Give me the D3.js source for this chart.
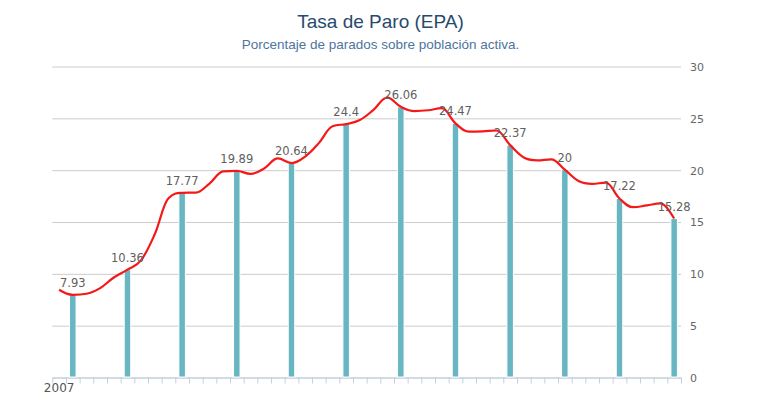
<html>
  <head>
    <meta charset="utf-8" />
    <script src="https://d3js.org/d3.v7.min.js"></script>
    <style>
      body {
        margin: 0;
        background: #fff;
      }
      .tick text {
        font-family: "DejaVu Sans", sans-serif;
      }
    </style>
  </head>

  <body>
    <svg id="chart" width="761" height="398"></svg>
    <script>
      // datos trimestrales EPA (2007T1 - 2018T2)
      var years = [2007, 2008, 2009, 2010, 2011, 2012, 2013, 2014, 2015, 2016, 2017, 2018];
      var quarterValues = [
        8.42, 7.93, 8.03, 8.57,
        9.6, 10.36, 11.28, 13.79,
        17.24, 17.77, 17.79, 18.66,
        19.84, 19.89, 19.59, 20.11,
        21.08, 20.64, 21.26, 22.56,
        24.19, 24.4, 24.79, 25.77,
        26.94, 26.06, 25.65, 25.73,
        25.93, 24.47, 23.67, 23.7,
        23.78, 22.37, 21.18, 20.9,
        21.0, 20.0, 18.91, 18.63,
        18.75, 17.22, 16.38, 16.55,
        16.74, 15.28
      ];
      // columnas: segundo trimestre de cada año
      var barQuarters = ["2007T2", "2008T2", "2009T2", "2010T2", "2011T2", "2012T2",
        "2013T2", "2014T2", "2015T2", "2016T2", "2017T2", "2018T2"];
      var barValues = [7.93, 10.36, 17.77, 19.89, 20.64, 24.4, 26.06, 24.47, 22.37, 20, 17.22, 15.28];
      var yTicks = [0, 5, 10, 15, 20, 25, 30];
      var xLabels = { "2007T1": "2007" };

      var quarters = [];
      years.forEach(function (yr) {
        ["T1", "T2", "T3", "T4"].forEach(function (q) {
          quarters.push(yr + q);
        });
      });
      quarters = quarters.slice(0, quarterValues.length);

      var svg = d3.select("#chart"),
        margin = { top: 66, bottom: 21, left: 52.3, right: 80 },
        width = +svg.attr("width"),
        height = +svg.attr("height");

      var plotL = margin.left,
        plotR = width - margin.right,
        plotT = margin.top,
        plotB = height - margin.bottom;

      var x = d3.scaleBand().domain(quarters).range([plotL, plotR]).padding(0);
      var xTicks = d3.scaleLinear().domain([0, quarters.length]).range([plotL, plotR]);
      var y = d3.scaleLinear().domain([0, 30]).range([plotB, plotT]);

      // titulos
      svg.append("text")
        .attr("x", 380.5)
        .attr("y", 28)
        .attr("text-anchor", "middle")
        .style("font-family", "'Liberation Sans', Arial, sans-serif")
        .style("font-size", "19px")
        .style("fill", "#274b6d")
        .text("Tasa de Paro (EPA)");

      svg.append("text")
        .attr("x", 380.5)
        .attr("y", 48.5)
        .attr("text-anchor", "middle")
        .style("font-family", "'Liberation Sans', Arial, sans-serif")
        .style("font-size", "13.5px")
        .style("fill", "#4d759e")
        .text("Porcentaje de parados sobre población activa.");

      // eje y con rejilla (a la derecha)
      var yAxis = svg.append("g")
        .attr("class", "y-axis")
        .attr("transform", "translate(" + plotR + ",0.5)")
        .call(d3.axisRight(y).tickValues(yTicks).tickSize(-(plotR - plotL)).tickPadding(9));
      yAxis.select(".domain").remove();
      yAxis.selectAll(".tick line").attr("stroke", "#cccccc");
      yAxis.selectAll(".tick text")
        .attr("fill", "#666")
        .style("font-size", "11px")
        .attr("dy", "0.35em");

      // eje x: marcas por trimestre
      var xAxis = svg.append("g")
        .attr("class", "x-axis")
        .attr("transform", "translate(0," + (plotB + 0.5) + ")")
        .call(d3.axisBottom(xTicks).tickValues(d3.range(quarters.length + 1)).tickSize(6).tickSizeOuter(0).tickFormat(""));
      xAxis.select(".domain").attr("stroke", "#c0d0e0");
      xAxis.selectAll(".tick line").attr("stroke", "#c0d0e0");

      var xLab = svg.append("g")
        .attr("transform", "translate(0," + plotB + ")")
        .call(d3.axisBottom(x).tickValues(Object.keys(xLabels)).tickSize(0).tickPadding(6)
          .tickFormat(function (d) { return xLabels[d]; }));
      xLab.select(".domain").remove();
      xLab.selectAll(".tick text")
        .attr("fill", "#555")
        .style("font-size", "12px");

      // columnas
      var barW = 6.5;
      svg.append("g")
        .selectAll("rect.bar")
        .data(barValues)
        .enter()
        .append("rect")
        .attr("class", "bar")
        .attr("x", function (d, i) { return x(barQuarters[i]) + x.bandwidth() / 2 - barW / 2; })
        .attr("y", function (d) { return y(d); })
        .attr("width", barW)
        .attr("height", function (d) { return y(0) - y(d); })
        .attr("fill", "#68b6c1")
        .attr("stroke", "#fff")
        .attr("stroke-width", 1);

      // linea spline (estilo highcharts)
      var pts = quarterValues.map(function (v, i) {
        return [x(quarters[i]) + x.bandwidth() / 2, y(v)];
      });

      function splinePath(points) {
        var p = d3.path(),
          smoothing = 1.5,
          denom = smoothing + 1,
          prevRight = null;
        points.forEach(function (pt, i) {
          var px = pt[0], py = pt[1], lc = null, rc = null;
          if (i > 0 && i < points.length - 1) {
            var lx = points[i - 1][0], ly = points[i - 1][1],
              nx = points[i + 1][0], ny = points[i + 1][1];
            var lcx = (smoothing * px + lx) / denom,
              lcy = (smoothing * py + ly) / denom,
              rcx = (smoothing * px + nx) / denom,
              rcy = (smoothing * py + ny) / denom;
            var corr = ((rcy - lcy) * (rcx - px)) / (rcx - lcx) + py - rcy;
            lcy += corr;
            rcy += corr;
            if (lcy > ly && lcy > py) { lcy = Math.max(ly, py); rcy = 2 * py - lcy; }
            else if (lcy < ly && lcy < py) { lcy = Math.min(ly, py); rcy = 2 * py - lcy; }
            if (rcy > ny && rcy > py) { rcy = Math.max(ny, py); lcy = 2 * py - rcy; }
            else if (rcy < ny && rcy < py) { rcy = Math.min(ny, py); lcy = 2 * py - rcy; }
            lc = [lcx, lcy];
            rc = [rcx, rcy];
          }
          if (i === 0) {
            p.moveTo(px, py);
          } else {
            var a = prevRight || points[i - 1],
              b = lc || [px, py];
            p.bezierCurveTo(a[0], a[1], b[0], b[1], px, py);
          }
          prevRight = rc;
        });
        return p.toString();
      }

      svg.append("path")
        .attr("d", splinePath(pts))
        .attr("fill", "none")
        .attr("stroke", "#f51818")
        .attr("stroke-width", 2.2)
        .attr("stroke-linejoin", "round");

      // etiquetas de las columnas
      svg.append("g")
        .selectAll("text")
        .data(barValues)
        .enter()
        .append("text")
        .attr("x", function (d, i) { return x(barQuarters[i]) + x.bandwidth() / 2; })
        .attr("y", function (d) { return y(d) - 8; })
        .attr("text-anchor", "middle")
        .style("font-family", "'DejaVu Sans', sans-serif")
        .style("font-size", "11.5px")
        .style("fill", "#606060")
        .text(function (d) { return d; });
    </script>
  </body>
</html>
